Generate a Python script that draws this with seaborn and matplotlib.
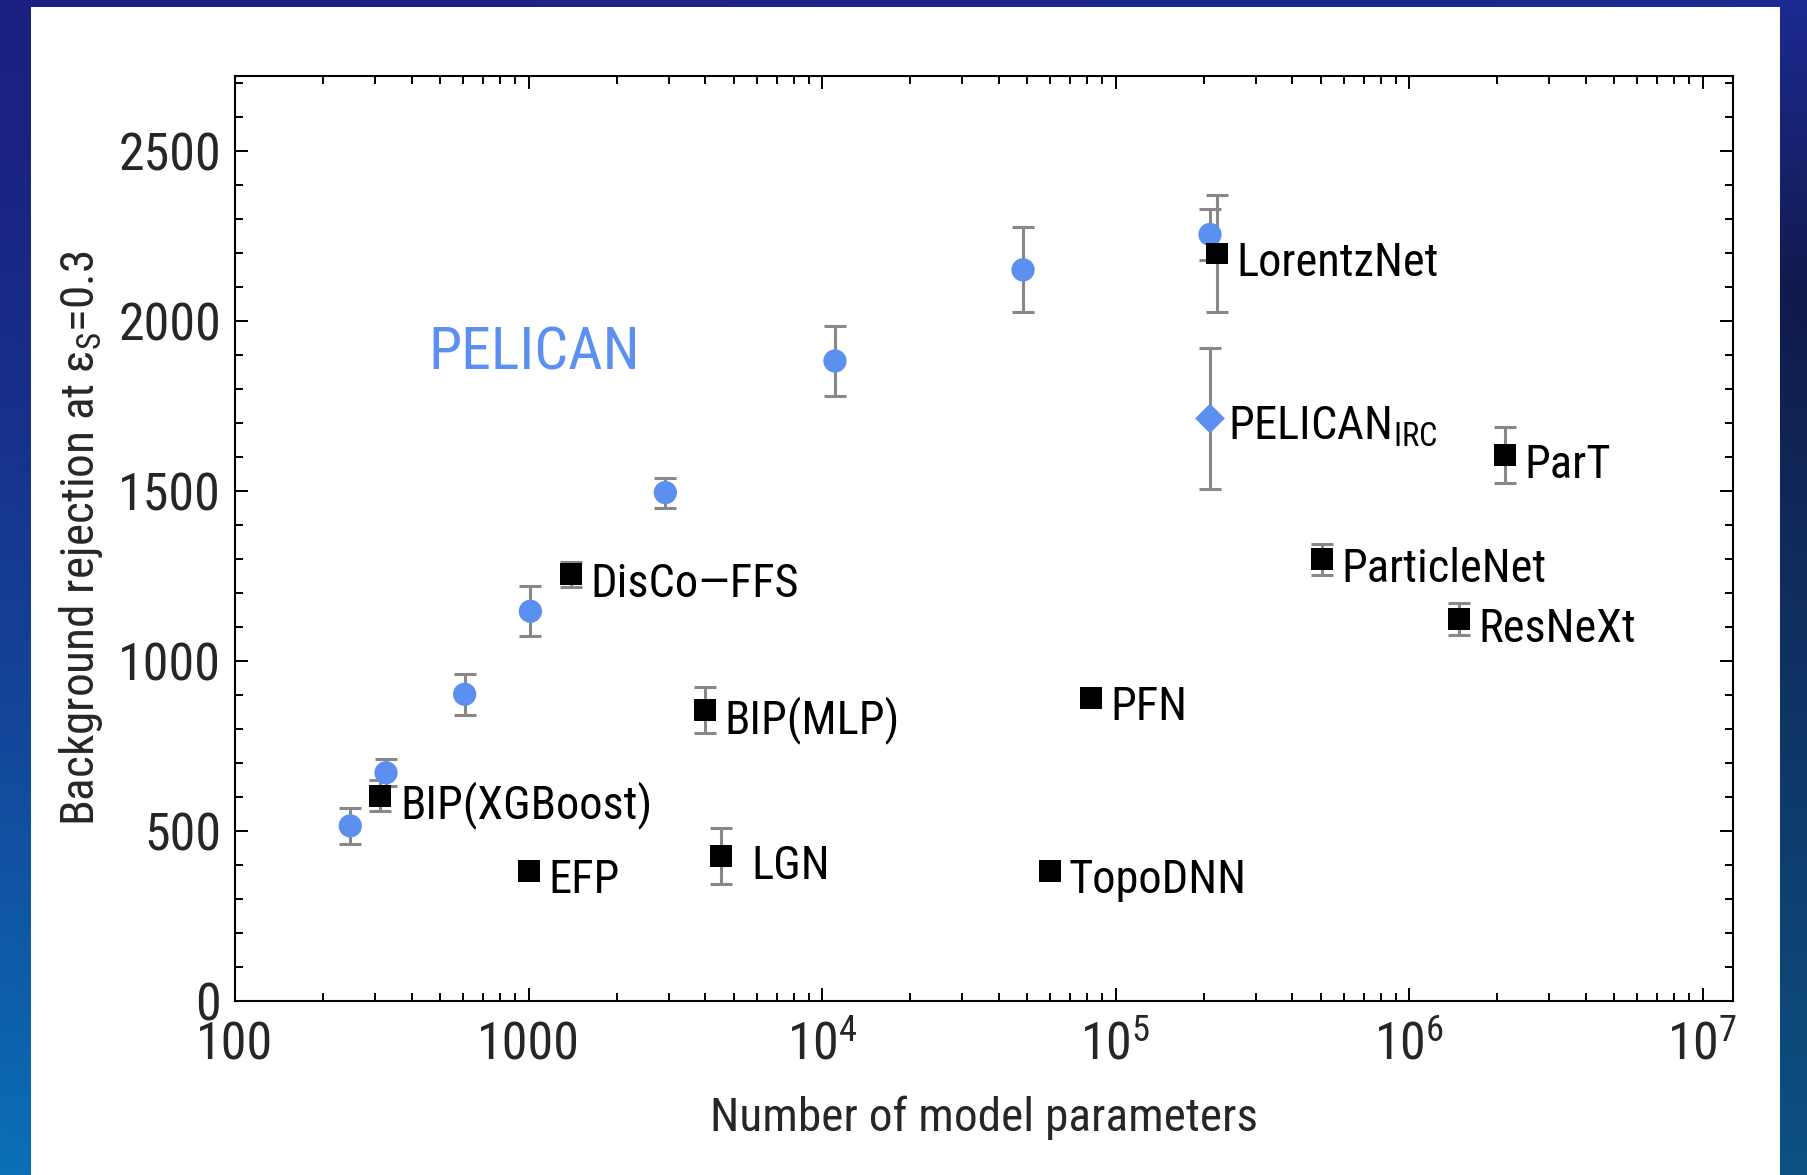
import numpy as np
import matplotlib
matplotlib.use("Agg")
import matplotlib.pyplot as plt
from matplotlib import font_manager as fm
from matplotlib.ticker import MultipleLocator, LogLocator, NullFormatter
from matplotlib.colors import to_rgb
from matplotlib.patches import Rectangle
import seaborn as sns

# ---- data -------------------------------------------------------------
pelican_params = [247, 327, 606, 1015, 2926, 11070, 48400, 209800]
pelican_rej = [515, 671, 902, 1146, 1495, 1882, 2150, 2254]
pelican_err = [52, 40, 60, 73, 44, 103, 125, 75]

irc_params = [209800]
irc_rej = [1713]
irc_err = [208]

other_names = ["LorentzNet", "ParT", "ParticleNet", "ResNeXt", "PFN", "TopoDNN",
               "LGN", "EFP", "BIP(XGBoost)", "BIP(MLP)", "DisCo\u2014FFS"]
other_params = [222000, 2120000, 505000, 1480000, 82600, 59600,
                4520, 1005, 313, 3980, 1393]
other_rej = [2198, 1605, 1299, 1122, 892, 383, 427, 383, 604, 855, 1255]
other_err = [173, 82, 45, 47, 0, 0, 82, 0, 45, 67, 37]

xtick_vals = [1e2, 1e3, 1e4, 1e5, 1e6, 1e7]
xtick_labels = ["100", "1000", r"$10^4$", r"$10^5$", r"$10^6$", r"$10^7$"]
ytick_vals = [0, 500, 1000, 1500, 2000, 2500]


def pick_narrow_font():
    """Prefer a condensed sans face; fall back to plain Roboto."""
    ttf = fm.fontManager.ttflist
    names = {f.name for f in ttf}
    for nm in ["Roboto Condensed", "Noto Sans Condensed", "Open Sans Condensed",
               "Liberation Sans Narrow", "Arimo Narrow", "DejaVu Sans Condensed"]:
        if nm in names:
            return nm, "normal", True
    for fam in ["Roboto", "Noto Sans", "Open Sans", "DejaVu Sans"]:
        st = {str(f.stretch) for f in ttf if f.name == fam and f.style == "normal"}
        for want in ["condensed", "semi-condensed", "extra-condensed"]:
            if want in st:
                return fam, want, True
    return "Roboto", "normal", False


# ---- style ------------------------------------------------------------
sns.set_theme(style="ticks")
base, stretch, narrow = pick_narrow_font()
plt.rcParams["font.family"] = [base, "DejaVu Sans"]
plt.rcParams["font.stretch"] = stretch
plt.rcParams["mathtext.fontset"] = "custom"
plt.rcParams["mathtext.rm"] = base
plt.rcParams["mathtext.it"] = base + ":italic"
plt.rcParams["mathtext.bf"] = base + ":bold"
plt.rcParams["mathtext.fallback"] = "stixsans"

k = 1.0 if narrow else 0.93  # keep text widths in check with a wide face
tick_fs, label_fs, axis_fs, title_fs = 37.5 * k, 33.5 * k, 34 * k, 43 * k

BLUE = "#5b8ff0"
GREY = "#888888"

W, H = 1808, 1175
fig = plt.figure(figsize=(W / 100, H / 100), dpi=100)

# ---- slide-style gradient frame --------------------------------------
bg = fig.add_axes([0, 0, 1, 1], zorder=-10)
bg.set_axis_off()
ny, nx = 200, 200
yy = np.linspace(0, 1, ny)[:, None]
xx = np.linspace(0, 1, nx)[None, :]
left_top, left_bot = np.array(to_rgb("#1b2080")), np.array(to_rgb("#0b70b6"))
right_top, right_mid, right_bot = (np.array(to_rgb("#1c2a92")),
                                   np.array(to_rgb("#111a4c")),
                                   np.array(to_rgb("#0c5282")))
t = yy[..., None]
left = left_top * (1 - t**1.5) + left_bot * t**1.5
right = np.where(t < 0.25,
                 right_top * (1 - t / 0.25) + right_mid * (t / 0.25),
                 right_mid * (1 - (t - 0.25) / 0.75) + right_bot * ((t - 0.25) / 0.75))
s = xx[..., None]
img = left * (1 - s) + right * s
bg.imshow(img, extent=[0, 1, 0, 1], aspect="auto", origin="upper")
bg.set_xlim(0, 1)
bg.set_ylim(0, 1)
bg.add_patch(Rectangle((31 / W, 0), (1780 - 31) / W, 1 - 7 / H,
                       facecolor="white", edgecolor="none"))

# ---- main axes --------------------------------------------------------
ax = fig.add_axes([235 / W, 1 - 1001 / H, (1733 - 235) / W, 925 / H])
ax.set_facecolor("none")
ax.set_xscale("log")
ax.set_xlim(100, 1.27e7)
ax.set_ylim(0, 2720)

eb_kw = dict(fmt="none", ecolor=GREY, elinewidth=2.2, capsize=8, capthick=2.2, zorder=2)
ax.errorbar(pelican_params, pelican_rej, yerr=pelican_err, **eb_kw)
ax.errorbar(irc_params, irc_rej, yerr=irc_err, **eb_kw)
oe = np.array(other_err)
m = oe > 0
ax.errorbar(np.array(other_params)[m], np.array(other_rej)[m], yerr=oe[m], **eb_kw)

sns.scatterplot(x=pelican_params, y=pelican_rej, marker="o", s=280, color=BLUE,
                edgecolor="none", linewidth=0, ax=ax, zorder=3)
sns.scatterplot(x=irc_params, y=irc_rej, marker="D", s=230, color=BLUE,
                edgecolor="none", linewidth=0, ax=ax, zorder=3)
sns.scatterplot(x=other_params, y=other_rej, marker="s", s=250, color="black",
                edgecolor="none", linewidth=0, ax=ax, zorder=4)

for name, xp, yp in zip(other_names, other_params, other_rej):
    dx = 22 if name == "LGN" else 14
    ax.annotate(name, (xp, yp), xytext=(dx, -7), textcoords="offset points",
                ha="left", va="center", fontsize=label_fs, color="black")
ax.annotate(r"PELICAN$_{\mathrm{IRC}}$", (irc_params[0], irc_rej[0]), xytext=(13, -6),
            textcoords="offset points", ha="left", va="center",
            fontsize=label_fs, color="black")

ax.text(457, 1906, "PELICAN", color=BLUE, fontsize=title_fs, ha="left", va="center")

# ---- ticks and labels -------------------------------------------------
ax.set_xticks(xtick_vals, labels=xtick_labels)
ax.xaxis.set_minor_locator(LogLocator(base=10, subs=np.arange(2, 10), numticks=20))
ax.xaxis.set_minor_formatter(NullFormatter())
ax.set_yticks(ytick_vals)
ax.yaxis.set_minor_locator(MultipleLocator(100))
ax.tick_params(which="both", direction="in", top=True, right=True,
               width=1.4, color="black")
ax.tick_params(which="major", length=9.5, labelsize=tick_fs)
ax.tick_params(which="minor", length=5.5)
ax.tick_params(axis="x", which="major", pad=14)
ax.tick_params(axis="y", which="major", pad=10)
for sp in ax.spines.values():
    sp.set_linewidth(1.5)
    sp.set_color("black")

ax.set_xlabel("Number of model parameters", fontsize=axis_fs, va="center")
ax.xaxis.set_label_coords(0.5, -117 / 925)
ax.set_ylabel(r"Background rejection at $\mathrm{\epsilon_S}$=0.3", fontsize=axis_fs,
              va="center", ha="center")
ax.yaxis.set_label_coords(-154 / 1498, 0.5)

fig.savefig("out.png", dpi=100)
